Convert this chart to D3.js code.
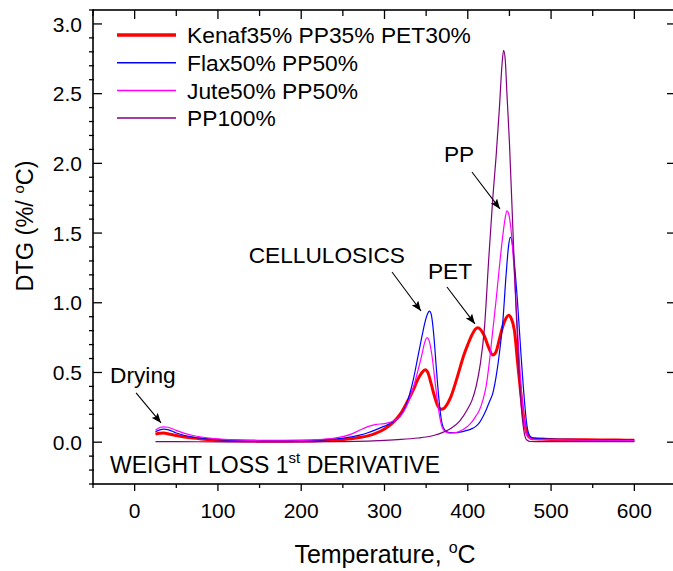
<!DOCTYPE html>
<html>
<head>
<meta charset="utf-8">
<script src="https://cdn.jsdelivr.net/npm/d3@7"></script>
<style>
  body { margin: 0; background: #fff; }
  svg { display: block; }
  text { font-family: "Liberation Sans", Arial, sans-serif; fill: #000; }
</style>
</head>
<body>
<svg id="chart" width="673" height="571"></svg>
<script>
// ---- data: DTG curves, [temperature °C, DTG %/°C] ----
const kenafPpPet = [[25,0.058],[30,0.064],[35,0.065],[40,0.060],[50,0.048],[60,0.037],[70,0.029],[80,0.023],[90,0.018],[100,0.014],[120,0.010],[140,0.008],[160,0.007],[180,0.007],[200,0.008],[220,0.010],[240,0.015],[260,0.025],[270,0.033],[280,0.045],[290,0.065],[300,0.095],[310,0.14],[320,0.21],[330,0.32],[335,0.38],[340,0.45],[345,0.50],[349,0.52],[352,0.50],[356,0.42],[360,0.33],[364,0.26],[368,0.236],[372,0.245],[376,0.28],[380,0.33],[385,0.42],[390,0.52],[395,0.62],[400,0.70],[405,0.77],[409,0.81],[412,0.82],[415,0.81],[420,0.76],[425,0.68],[430,0.625],[434,0.65],[438,0.74],[442,0.83],[446,0.89],[449,0.91],[452,0.89],[456,0.80],[460,0.56],[464,0.33],[468,0.14],[472,0.05],[476,0.028],[480,0.024],[490,0.022],[500,0.020],[520,0.018],[540,0.017],[560,0.016],[580,0.015],[600,0.014]];

const flaxPp = [[25,0.075],[30,0.088],[35,0.093],[40,0.090],[50,0.066],[60,0.048],[70,0.036],[80,0.028],[90,0.022],[100,0.018],[120,0.012],[140,0.010],[160,0.009],[180,0.009],[200,0.010],[220,0.014],[240,0.022],[260,0.038],[270,0.050],[280,0.068],[290,0.090],[300,0.115],[310,0.145],[318,0.18],[325,0.25],[330,0.34],[335,0.46],[340,0.61],[345,0.76],[349,0.87],[352,0.925],[354,0.94],[356,0.92],[359,0.78],[362,0.55],[365,0.33],[368,0.17],[371,0.10],[375,0.075],[380,0.068],[385,0.068],[390,0.072],[395,0.078],[400,0.086],[405,0.097],[410,0.115],[414,0.14],[418,0.18],[422,0.23],[426,0.29],[430,0.35],[434,0.47],[438,0.64],[442,0.86],[446,1.20],[449,1.41],[451,1.47],[453,1.44],[456,1.28],[460,0.98],[464,0.62],[468,0.30],[471,0.12],[474,0.05],[478,0.030],[485,0.025],[500,0.022],[520,0.020],[540,0.018],[560,0.017],[580,0.016],[600,0.015]];

const jutePp = [[25,0.085],[30,0.105],[35,0.110],[40,0.107],[50,0.085],[60,0.063],[70,0.048],[80,0.037],[90,0.029],[100,0.023],[120,0.016],[140,0.012],[160,0.010],[180,0.010],[200,0.012],[220,0.018],[240,0.030],[250,0.040],[260,0.058],[270,0.085],[280,0.112],[290,0.128],[300,0.133],[310,0.150],[318,0.18],[325,0.24],[330,0.31],[335,0.40],[340,0.51],[345,0.63],[348,0.71],[351,0.75],[354,0.72],[357,0.62],[361,0.42],[365,0.23],[369,0.11],[373,0.075],[378,0.065],[385,0.068],[390,0.078],[395,0.093],[400,0.115],[405,0.145],[410,0.19],[414,0.23],[418,0.30],[422,0.40],[426,0.58],[430,0.80],[434,1.02],[438,1.26],[442,1.48],[445,1.61],[447,1.66],[449,1.64],[452,1.52],[456,1.20],[460,0.78],[464,0.40],[468,0.14],[471,0.05],[475,0.025],[480,0.020],[500,0.018],[540,0.015],[600,0.012]];

const pp100 = [[25,0.004],[50,0.004],[100,0.002],[150,0.002],[200,0.002],[250,0.004],[280,0.008],[300,0.013],[320,0.020],[340,0.030],[350,0.037],[360,0.050],[370,0.070],[380,0.10],[390,0.15],[400,0.24],[405,0.30],[410,0.40],[415,0.56],[420,0.82],[425,1.30],[430,1.75],[434,2.05],[438,2.40],[441,2.70],[443,2.81],[445,2.74],[447,2.50],[450,2.15],[454,1.55],[458,0.95],[462,0.45],[465,0.20],[468,0.06],[471,0.015],[475,0.005],[500,0.004],[600,0.004]];

const seriesNames = ["Kenaf35% PP35% PET30%", "Flax50% PP50%", "Jute50% PP50%", "PP100%"];
const seriesValues = [kenafPpPet, flaxPp, jutePp, pp100];

const xTickValues = [0, 100, 200, 300, 400, 500, 600];
const yTickValues = [0.0, 0.5, 1.0, 1.5, 2.0, 2.5, 3.0];

// annotation anchors in data units: label position and arrow from/to
const notes = [
  { text: "Drying",      anchor: "start", at: [-29.5, 0.425], from: [1.7, 0.353],  to: [31.7, 0.138] },
  { text: "CELLULOSICS", anchor: "end",   at: [324.6, 1.286], from: [309, 1.221],  to: [343.8, 0.941] },
  { text: "PET",         anchor: "start", at: [352.2, 1.171], from: [375, 1.113],  to: [408.6, 0.848] },
  { text: "PP",          anchor: "start", at: [371.4, 2.010], from: [405, 1.938],  to: [438.6, 1.673] }
];

// ---- styling ----
const lineColors = ["#ff0000", "#0000ff", "#ff00ff", "#800080"];
const lineWidths = [3, 1.2, 1.2, 1.2];

const svg = d3.select("#chart");
const x = d3.scaleLinear().domain([-50, 650]).range([93, 676]);
const y = d3.scaleLinear().domain([-0.3, 3.1]).range([484, 10]);

// curves
const line = d3.line()
  .x(d => x(d[0]))
  .y(d => y(d[1]))
  .curve(d3.curveMonotoneX);

svg.append("g").selectAll("path")
  .data(seriesValues)
  .join("path")
  .attr("d", line)
  .attr("fill", "none")
  .attr("stroke", (d, i) => lineColors[i])
  .attr("stroke-width", (d, i) => lineWidths[i])
  .attr("stroke-linejoin", "round");

// frame
const frame = svg.append("g").attr("stroke", "#000").attr("stroke-width", 1.6).attr("fill", "none");
frame.append("rect")
  .attr("x", x(-50)).attr("y", y(3.1))
  .attr("width", x(650) - x(-50)).attr("height", y(-0.3) - y(3.1));

// ticks
const xMinor = d3.range(-50, 651, 50).filter(v => v % 100 !== 0);
const yMinor = d3.range(-3, 32, 1).map(v => v / 10).filter(v => Math.round(v * 10) % 5 !== 0);

const tickG = svg.append("g").attr("stroke", "#000").attr("stroke-width", 1.3);
// bottom: outward
xTickValues.forEach(v => tickG.append("line").attr("x1", x(v)).attr("x2", x(v)).attr("y1", y(-0.3)).attr("y2", y(-0.3) + 7));
xMinor.forEach(v => tickG.append("line").attr("x1", x(v)).attr("x2", x(v)).attr("y1", y(-0.3)).attr("y2", y(-0.3) + 4));
// top: inward
xTickValues.forEach(v => tickG.append("line").attr("x1", x(v)).attr("x2", x(v)).attr("y1", y(3.1)).attr("y2", y(3.1) + 9));
xMinor.forEach(v => tickG.append("line").attr("x1", x(v)).attr("x2", x(v)).attr("y1", y(3.1)).attr("y2", y(3.1) + 6));
// left: major inward, minor outward
yTickValues.forEach(v => tickG.append("line").attr("x1", x(-50)).attr("x2", x(-50) + 9).attr("y1", y(v)).attr("y2", y(v)));
yMinor.forEach(v => tickG.append("line").attr("x1", x(-50) - 4).attr("x2", x(-50) + 1).attr("y1", y(v)).attr("y2", y(v)));
// right
yTickValues.forEach(v => tickG.append("line").attr("x1", x(650) - 9).attr("x2", x(650)).attr("y1", y(v)).attr("y2", y(v)));
yMinor.forEach(v => tickG.append("line").attr("x1", x(650) - 3).attr("x2", x(650) + 3).attr("y1", y(v)).attr("y2", y(v)));

// tick labels
svg.append("g").selectAll("text")
  .data(xTickValues)
  .join("text")
  .attr("x", d => x(d))
  .attr("y", 518)
  .attr("text-anchor", "middle")
  .attr("font-size", 21)
  .text(d => d3.format("d")(d));

svg.append("g").selectAll("text")
  .data(yTickValues)
  .join("text")
  .attr("x", 82)
  .attr("y", d => y(d))
  .attr("dy", "0.36em")
  .attr("text-anchor", "end")
  .attr("font-size", 21)
  .text(d => d3.format(".1f")(d));

// axis titles
const xt = svg.append("text")
  .attr("x", 385).attr("y", 563)
  .attr("text-anchor", "middle")
  .attr("font-size", 25);
xt.append("tspan").text("Temperature, ");
xt.append("tspan").attr("font-size", 16).attr("dy", -10).text("o");
xt.append("tspan").attr("dy", 10).text("C");

const yt = svg.append("text")
  .attr("transform", "translate(33,226) rotate(-90)")
  .attr("text-anchor", "middle")
  .attr("font-size", 23.5);
yt.append("tspan").text("DTG (%/ ");
yt.append("tspan").attr("font-size", 15).attr("dy", -9).text("o");
yt.append("tspan").attr("dy", 9).text("C)");

// legend
const legend = svg.append("g");
seriesNames.forEach((name, i) => {
  const ly = 35 + i * 27.7;
  legend.append("line")
    .attr("x1", 117).attr("x2", 176).attr("y1", ly).attr("y2", ly)
    .attr("stroke", lineColors[i]).attr("stroke-width", lineWidths[i] + 0.3);
  legend.append("text")
    .attr("x", 187).attr("y", ly).attr("dy", "0.36em")
    .attr("font-size", 22.8)
    .text(name);
});

// caption inside the plot
const cap = svg.append("text")
  .attr("x", x(-29.5)).attr("y", y(-0.221))
  .attr("font-size", 23);
cap.append("tspan").text("WEIGHT LOSS 1");
cap.append("tspan").attr("font-size", 15).attr("dy", -10).text("st");
cap.append("tspan").attr("dy", 10).text(" DERIVATIVE");

// arrow annotations
const defs = svg.append("defs");
defs.append("marker")
  .attr("id", "arrowhead")
  .attr("viewBox", "0 0 10 8")
  .attr("refX", 10).attr("refY", 4)
  .attr("markerWidth", 10).attr("markerHeight", 8)
  .attr("markerUnits", "userSpaceOnUse")
  .attr("orient", "auto")
  .append("path").attr("d", "M0,0 L10,4 L0,8 L2,4 Z").attr("fill", "#000");

const noteG = svg.append("g");
notes.forEach(n => {
  noteG.append("text")
    .attr("x", x(n.at[0])).attr("y", y(n.at[1]))
    .attr("text-anchor", n.anchor)
    .attr("font-size", 22.7)
    .text(n.text);
  noteG.append("line")
    .attr("x1", x(n.from[0])).attr("y1", y(n.from[1]))
    .attr("x2", x(n.to[0])).attr("y2", y(n.to[1]))
    .attr("stroke", "#000").attr("stroke-width", 1.1)
    .attr("marker-end", "url(#arrowhead)");
});
</script>
</body>
</html>
